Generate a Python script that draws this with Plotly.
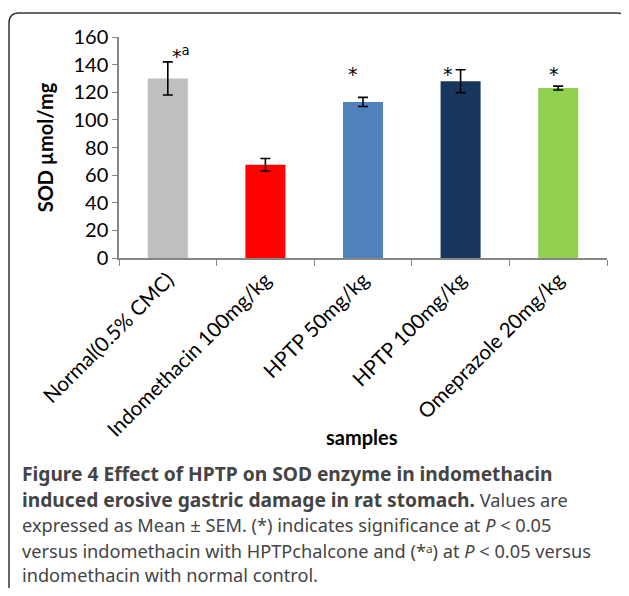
import plotly.graph_objects as go

categories = ["Normal(0.5% CMC)", "Indomethacin 100mg/kg", "HPTP 50mg/kg",
              "HPTP 100mg/kg", "Omeprazole 20mg/kg"]
sod_values = [130, 67.5, 113, 128, 123]
sem_values = [12, 4.5, 3.3, 8.3, 1.4]
bar_colors = ["#BFBFBF", "#FF0000", "#4F81BD", "#17375E", "#92D050"]
sig_labels = ["*<sup>a</sup>", "", "*", "*", "*"]
sig_levels = [147, 0, 133, 133, 133]
sig_shift = [13, 0, -10, -13, -4]

BOLD = '<span style="font-size:19.2px"><b>{}</b></span>'
caption_lines = [
    BOLD.format("Figure 4 Effect of HPTP on SOD enzyme in indomethacin"),
    BOLD.format("induced erosive gastric damage in rat stomach.") + " Values are",
    "expressed as Mean ± SEM. (*) indicates significance at <i>P</i> &lt; 0.05",
    "versus indomethacin with HPTPchalcone and (*ᵃ) at <i>P</i> &lt; 0.05 versus",
    "indomethacin with normal control.",
]

# page offset (default body margin) -> draw in target-pixel coordinates
OFF = 8
W, H = 621, 580
L, T = 119 - OFF, 37 - OFF
plot_right, plot_bottom = 607 - OFF, 258.3 - OFF
R, B = W - plot_right, H - plot_bottom
pw, ph = plot_right - L, plot_bottom - T

def px(x):
    return (x - OFF - L) / pw

def py(y):
    return (plot_bottom - (y - OFF)) / ph

fig = go.Figure()
fig.add_trace(go.Bar(
    x=categories, y=sod_values, marker_color=bar_colors, marker_line_width=0,
    width=0.41,
    error_y=dict(type="data", array=sem_values, color="black", thickness=1.6, width=5),
))

for c, lab, lv, sh in zip(categories, sig_labels, sig_levels, sig_shift):
    if lab:
        fig.add_annotation(x=c, y=lv, text=lab, showarrow=False, xshift=sh,
                           yanchor="middle",
                           font=dict(family="DejaVu Sans", size=19, color="black"))

# rounded frame
x0, y0, x1, y1, r = 9, 13, 627, 640, 10
path = (f"M {px(x0)} {py(y1)} L {px(x0)} {py(y0 + r)} "
        f"Q {px(x0)} {py(y0)} {px(x0 + r)} {py(y0)} "
        f"L {px(x1 - r)} {py(y0)} Q {px(x1)} {py(y0)} {px(x1)} {py(y0 + r)} "
        f"L {px(x1)} {py(y1)}")
fig.add_shape(type="path", xref="paper", yref="paper", path=path,
              line=dict(color="#333333", width=1.5))

fig.add_annotation(xref="paper", yref="paper", x=px(362), y=py(438), text="<b>samples</b>",
                   xanchor="center", yanchor="middle",
                   showarrow=False, font=dict(family="Lato", size=20, color="black"))

cap_y = [474, 500, 526, 552, 576]
for line, yy in zip(caption_lines, cap_y):
    fig.add_annotation(xref="paper", yref="paper", x=px(20), y=py(yy), xanchor="left",
                       yanchor="middle", text=line, showarrow=False,
                       font=dict(family="Noto Sans", size=18.2, color="#444444"))

fig.update_layout(
    width=W, height=H, margin=dict(l=L, r=R, t=T, b=B),
    plot_bgcolor="white", paper_bgcolor="white", showlegend=False,
    font=dict(family="Lato", size=20, color="black"),
)
fig.update_yaxes(range=[0, 160], dtick=20, showgrid=False, showline=True,
                 linecolor="#868686", linewidth=1.5, ticks="outside", ticklen=5,
                 tickcolor="#868686", title=dict(text="<b>SOD µmol/mg</b>", standoff=14,
                 font=dict(size=20)), zeroline=False, tickfont=dict(size=20))
fig.update_xaxes(showgrid=False, showline=True, linecolor="#868686", linewidth=1.5,
                 ticks="outside", tickson="boundaries", ticklen=6, tickcolor="#868686",
                 tickangle=-45, tickfont=dict(size=20.5))

fig.write_html("out.html")
